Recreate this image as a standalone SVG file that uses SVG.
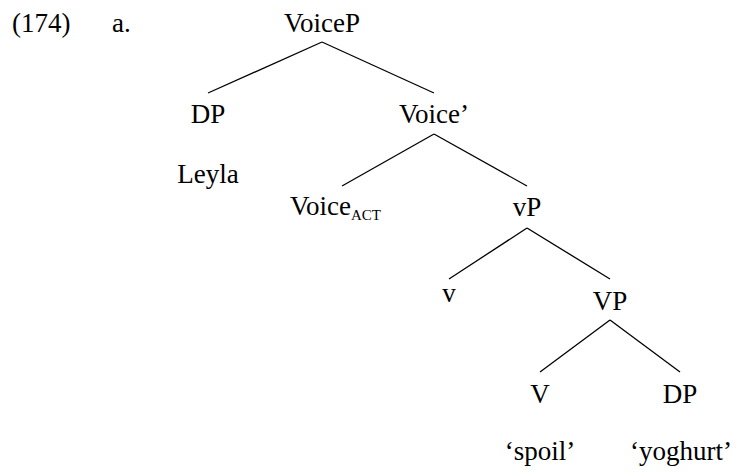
<svg xmlns="http://www.w3.org/2000/svg" width="735" height="473" viewBox="0 0 735 473">
<rect width="735" height="473" fill="#fff"/>
<g id="label"><text x="12" y="32" font-family="Times New Roman, Liberation Serif, serif" font-size="27">(174)</text><text x="112" y="32" font-family="Times New Roman, Liberation Serif, serif" font-size="27">a.</text></g>
<g id="edges" stroke="#000" stroke-width="1.3">
<line x1="322" y1="42" x2="208" y2="93"/>
<line x1="322" y1="42" x2="434" y2="93"/>
<line x1="434" y1="134" x2="342" y2="186"/>
<line x1="434" y1="134" x2="527" y2="186"/>
<line x1="527" y1="228" x2="449" y2="279"/>
<line x1="527" y1="228" x2="610" y2="279"/>
<line x1="610" y1="320" x2="540" y2="372"/>
<line x1="610" y1="320" x2="680" y2="372"/>
</g>
<g id="voiceP"><text text-anchor="middle" x="322" y="32" font-family="Times New Roman, Liberation Serif, serif" font-size="27">VoiceP</text></g>
<g id="dp1"><text text-anchor="middle" x="208" y="123" font-family="Times New Roman, Liberation Serif, serif" font-size="27">DP</text></g>
<g id="leyla"><text text-anchor="middle" x="208" y="183" font-family="Times New Roman, Liberation Serif, serif" font-size="27">Leyla</text></g>
<g id="voicebar"><text text-anchor="middle" x="434" y="123" font-family="Times New Roman, Liberation Serif, serif" font-size="27">Voice’</text></g>
<g id="voiceact"><text x="290" y="215" font-family="Times New Roman, Liberation Serif, serif" font-size="27">Voice<tspan dy="5" font-size="15">ACT</tspan></text></g>
<g id="vP"><text text-anchor="middle" x="527" y="216" font-family="Times New Roman, Liberation Serif, serif" font-size="27">vP</text></g>
<g id="v"><text text-anchor="middle" x="449" y="302" font-family="Times New Roman, Liberation Serif, serif" font-size="27">v</text></g>
<g id="VP"><text text-anchor="middle" x="610" y="310" font-family="Times New Roman, Liberation Serif, serif" font-size="27">VP</text></g>
<g id="V"><text text-anchor="middle" x="540" y="403" font-family="Times New Roman, Liberation Serif, serif" font-size="27">V</text></g>
<g id="dp2"><text text-anchor="middle" x="680" y="403" font-family="Times New Roman, Liberation Serif, serif" font-size="27">DP</text></g>
<g id="spoil"><text text-anchor="middle" x="540" y="460" font-family="Times New Roman, Liberation Serif, serif" font-size="27">‘spoil’</text></g>
<g id="yoghurt"><text text-anchor="middle" x="681" y="460" font-family="Times New Roman, Liberation Serif, serif" font-size="27">‘yoghurt’</text></g>
</svg>
